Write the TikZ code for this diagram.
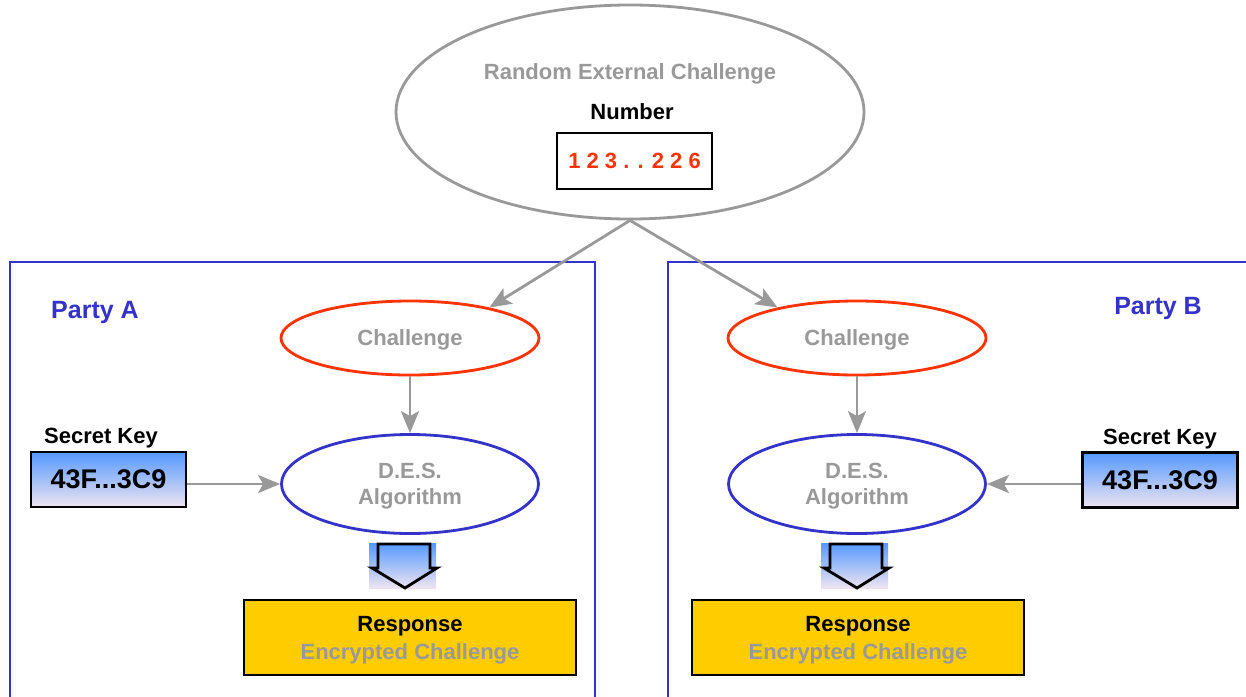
\documentclass[tikz,border=0pt]{standalone}
\usepackage{fontspec}
\setmainfont{Liberation Sans}
\usetikzlibrary{shapes.geometric,arrows.meta,calc}
\definecolor{gr}{HTML}{999999}
\definecolor{pblue}{HTML}{3333CC}
\definecolor{ored}{HTML}{FF3300}
\definecolor{gold}{HTML}{FFCC00}
\definecolor{ktop}{HTML}{5599FF}
\definecolor{kbot}{HTML}{EEE4F0}
\tikzset{
  txt/.style={font=\fontsize{22}{26}\selectfont\bfseries, inner sep=0pt, text depth=0pt},
  graytxt/.style={txt, text=gr},
  conn/.style={draw=gr, line width=2.8pt, -{Stealth[length=22pt,width=18pt,inset=5pt]}},
  party/.style={draw=pblue, line width=2.8pt},
  chal/.style={ellipse, draw=ored, line width=2.8pt, minimum width=258pt, minimum height=74pt, inner sep=0pt, graytxt},
  des/.style={ellipse, draw=pblue, line width=2.8pt, minimum width=257pt, minimum height=99pt, inner sep=0pt, graytxt, align=center, text depth=-3pt},
  keybox/.style={draw=black, line width=2.8pt, top color=ktop, bottom color=kbot, minimum width=155pt, minimum height=55pt, inner sep=0pt, font=\fontsize{27}{30}\selectfont\bfseries},
  resp/.style={draw=black, line width=2.8pt, fill=gold, minimum width=332pt, minimum height=75pt, inner sep=0pt, align=center, text depth=0pt, font=\fontsize{22}{28}\selectfont\bfseries},
  partylabel/.style={inner sep=0pt, text=pblue, text depth=0pt, font=\fontsize{25}{28}\selectfont\bfseries},
}
\newcommand{\blockarrow}[1]{%
  \shade[top color=ktop, bottom color=kbot] ($(#1)+(-34,-22)$) rectangle ($(#1)+(33,23)$);
  \draw[line width=2.8pt, line join=miter] ($(#1)+(-25,-21)$) -- ($(#1)+(27,-21)$) -- ($(#1)+(27,3)$) -- ($(#1)+(34,3)$) -- ($(#1)+(2,23)$) -- ($(#1)+(-31,3)$) -- ($(#1)+(-25,3)$) -- cycle;}
\begin{document}
\begin{tikzpicture}[x=1pt,y=-1pt]
\useasboundingbox (0,0) rectangle (1246,696);
% party frames
\draw[party] (10,710) -- (10,262) -- (595,262) -- (595,710);
\draw[party] (668,710) -- (668,262) -- (1260,262);
\node[partylabel] (pa) at (95,310) {Party A};
\node[partylabel] (pb) at (1158,306) {Party B};
% top ellipse
\node[ellipse, draw=gr, line width=2.8pt, minimum width=468pt, minimum height=214pt, inner sep=0pt] (rec) at (630,112) {};
\node[graytxt] (rectxt) at (630,72) {Random External Challenge};
\node[txt] (numlbl) at (632,112) {Number};
\node[draw=black, line width=2.8pt, minimum width=155pt, minimum height=56pt, inner sep=0pt, text=ored, font=\fontsize{22}{26}\selectfont\bfseries] (num) at (634.5,161) {1 2 3 . . 2 2 6};
% challenges
\node[chal] (chalA) at (410,338) {Challenge};
\node[chal] (chalB) at (857,338) {Challenge};
\draw[conn] (rec.south) -- (chalA.21);
\draw[conn] (rec.south) -- (chalB.159);
% DES
\node[des] (desA) at (410,484) {D.E.S.\\Algorithm};
\node[des] (desB) at (857,484) {D.E.S.\\Algorithm};
\draw[conn] (chalA) -- (desA);
\draw[conn] (chalB) -- (desB);
% keys
\node[txt] (skA) at (101,436) {Secret Key};
\node[txt] (skB) at (1160,437) {Secret Key};
\node[keybox] (keyA) at (108.5,479.5) {43F...3C9};
\node[keybox] (keyB) at (1160,480) {43F...3C9};
\draw[conn] (keyA.east |- desA.west) -- (desA.west);
\draw[conn] (keyB.west |- desB.east) -- (desB.east);
% block arrows
\coordinate (baA) at (403,565);
\coordinate (baB) at (855,565);
\blockarrow{baA}
\blockarrow{baB}
% responses
\node[resp] (respA) at (410,637.5) {Response\\\textcolor{gr}{Encrypted Challenge}};
\node[resp] (respB) at (858,637.5) {Response\\\textcolor{gr}{Encrypted Challenge}};
\end{tikzpicture}
\end{document}
